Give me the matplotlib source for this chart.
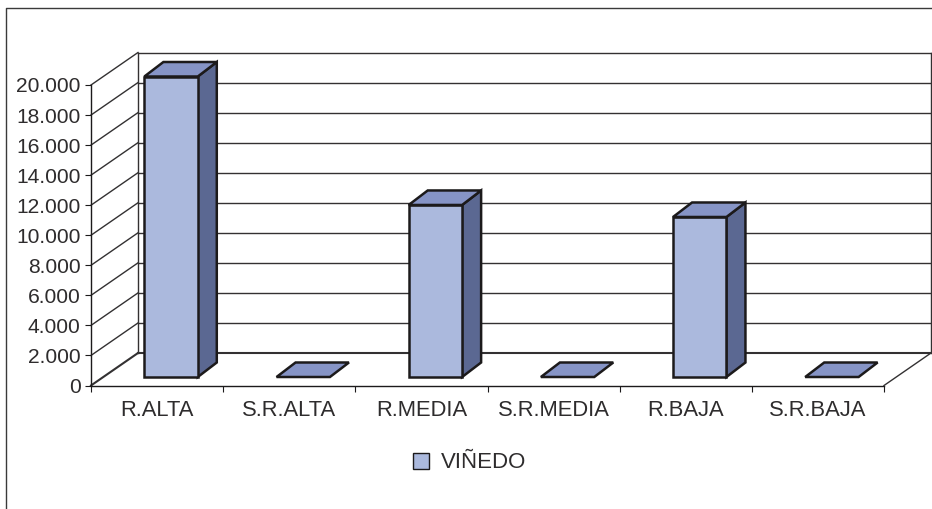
import matplotlib

matplotlib.use("Agg")

import matplotlib.pyplot as plt
from matplotlib.lines import Line2D
from matplotlib.patches import Patch, Polygon
from matplotlib.ticker import FuncFormatter

categories = ["R.ALTA", "S.R.ALTA", "R.MEDIA", "S.R.MEDIA", "R.BAJA", "S.R.BAJA"]
vinedo = [20000, 0, 11450, 0, 10650, 0]
y_ticks = [0, 2000, 4000, 6000, 8000, 10000, 12000, 14000, 16000, 18000, 20000]
series_name = "VIÑEDO"

W, H = 932, 509
INK = "#1c1a1b"
GRID = "#333132"
TEXT = "#2e2c2d"
FRONT = "#abb9dd"
TOP = "#8694c6"
SIDE = "#5b6892"

# depth of the oblique projection, in data units
DEPTH_X = 47 / 793 * 6
DEPTH_Y = 32.5 / 300.5 * 20000
BAR_WIDTH = 0.404
BAR_FRONT = (14 / 793 * 6, 8.5 / 300.5 * 20000)
BAR_BACK = (33 / 793 * 6, 23 / 300.5 * 20000)

plt.rcParams["font.family"] = ["Liberation Sans", "DejaVu Sans"]

fig = plt.figure(figsize=(W / 100, H / 100), dpi=100, facecolor="white")
ax = fig.add_axes([91 / W, 1 - 385.5 / H, 793 / W, 300.5 / H])
ax.set_xlim(0, len(categories))
ax.set_ylim(0, 20000)
ax.patch.set_visible(False)

for side in ("top", "right"):
    ax.spines[side].set_visible(False)
for side in ("left", "bottom"):
    ax.spines[side].set_linewidth(1.0)
    ax.spines[side].set_color(INK)

ax.set_yticks(y_ticks)
ax.yaxis.set_major_formatter(FuncFormatter(lambda v, _: f"{int(v):,}".replace(",", ".")))
ax.set_xticks(range(len(categories) + 1))
ax.set_xticklabels([])
ax.set_xticks([i + 0.5 for i in range(len(categories))], categories, minor=True)
ax.tick_params(axis="y", length=4.5, width=0.8, color=INK, labelsize=15.1, labelcolor=TEXT, pad=3)
ax.tick_params(axis="x", which="major", length=4.5, width=0.8, color=INK)
ax.tick_params(axis="x", which="minor", length=0, labelsize=15.8, labelcolor=TEXT, pad=10.5)

# walls and grid
n = len(categories)
for v in y_ticks:
    lw = 1.5 if v == 0 else 1.0
    ax.plot([0, DEPTH_X], [v, v + DEPTH_Y], color=GRID, lw=lw, clip_on=False, zorder=1)
    ax.plot([DEPTH_X, n + DEPTH_X], [v + DEPTH_Y] * 2, color=GRID, lw=lw, clip_on=False, zorder=1)
ax.plot([DEPTH_X, DEPTH_X], [DEPTH_Y, 20000 + DEPTH_Y], color=GRID, lw=1.0, clip_on=False, zorder=1)
ax.plot([n + DEPTH_X, n + DEPTH_X], [DEPTH_Y, 20000 + DEPTH_Y], color=GRID, lw=1.0, clip_on=False, zorder=1)
ax.plot([n, n + DEPTH_X], [0, DEPTH_Y], color=GRID, lw=1.0, clip_on=False, zorder=1)

# bars
fx, fy = BAR_FRONT
bx, by = BAR_BACK
for i, value in enumerate(vinedo):
    x0 = i + 0.5 - BAR_WIDTH / 2
    x1 = i + 0.5 + BAR_WIDTH / 2
    style = dict(edgecolor=INK, linewidth=1.8, joinstyle="miter", clip_on=False, zorder=3)
    if value > 0:
        ax.add_patch(Polygon([(x1 + fx, fy), (x1 + bx, by), (x1 + bx, value + by), (x1 + fx, value + fy)],
                             facecolor=SIDE, **style))
        ax.add_patch(Polygon([(x0 + fx, fy), (x1 + fx, fy), (x1 + fx, value + fy), (x0 + fx, value + fy)],
                             facecolor=FRONT, **style))
    ax.add_patch(Polygon([(x0 + fx, value + fy), (x1 + fx, value + fy), (x1 + bx, value + by), (x0 + bx, value + by)],
                         facecolor=TOP, **style))

legend = fig.legend(
    handles=[Patch(facecolor=FRONT, edgecolor=INK, linewidth=1.0, label=series_name)],
    loc="center",
    bbox_to_anchor=(470 / W, 1 - 463 / H),
    frameon=False,
    fontsize=16,
    labelcolor=TEXT,
    handlelength=0.7,
    handleheight=0.7,
    handletextpad=0.55,
)

# chart frame, open at the bottom and right of the crop
fig.add_artist(Line2D([6 / W, 6 / W, 932 / W], [0, 1 - 7.5 / H, 1 - 7.5 / H], color="#3a3a3a", lw=1.0))

fig.savefig("out.png", dpi=100)
